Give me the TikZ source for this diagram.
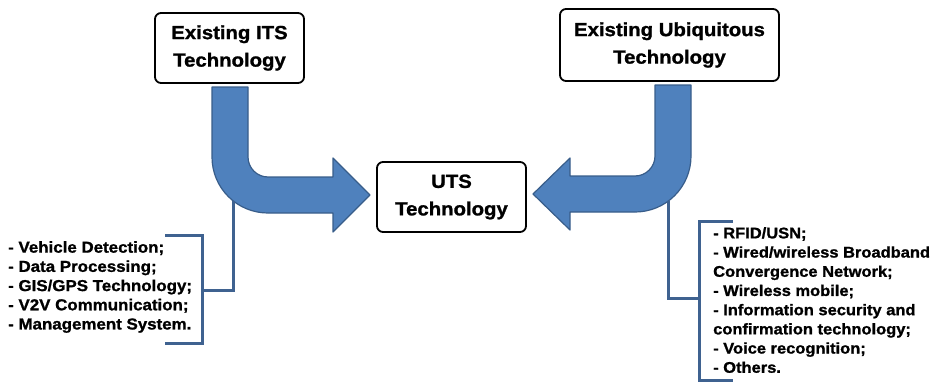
\documentclass[tikz,border=0pt]{standalone}
\usepackage{fontspec}
\newfontfamily\lbf{Liberation Sans}[FakeStretch=1.07,FakeBold=1.2]
\definecolor{arrowfill}{HTML}{4F81BD}
\definecolor{arrowline}{HTML}{385D8A}
\definecolor{bracketc}{HTML}{3F6290}
\begin{document}
\begin{tikzpicture}[x=1pt,y=-1pt,
  box/.style={draw=black,line width=1.8pt,rounded corners=6pt,fill=white,inner sep=0pt,align=center,
    font=\lbf\bfseries\fontsize{19}{27.5}\selectfont},
  bigarrow/.style={fill=arrowfill,draw=arrowline,line width=1.2pt,line join=round},
  brk/.style={draw=bracketc,line width=3pt,line join=miter},
  list/.style={inner sep=0pt,align=left,anchor=north west,
    font=\lbf\bfseries\fontsize{15.4}{19.2}\selectfont}]
\useasboundingbox (0,0) rectangle (931,383);

% boxes
\node[box,minimum width=149pt,minimum height=70pt] (its) at (229.5,48) {Existing ITS\\Technology};
\node[box,minimum width=219pt,minimum height=72pt] (ubi) at (669.5,45) {Existing Ubiquitous\\Technology};
\node[box,minimum width=149pt,minimum height=70pt] (uts) at (451.5,197) {UTS\\Technology};

% left bent arrow
\path[bigarrow] (212,87) -- (248,87) -- (248,157)
  .. controls (248,168) and (257,177) .. (268,177)
  -- (333,177) -- (333,158) -- (370,195) -- (333,232) -- (333,213) -- (268,213)
  .. controls (237,213) and (212,188) .. (212,157) -- cycle;

% right bent arrow
\path[bigarrow] (691,85) -- (655,85) -- (655,156)
  .. controls (655,167) and (646,176) .. (635,176)
  -- (570,176) -- (570,158) -- (533,194) -- (570,230) -- (570,212) -- (635,212)
  .. controls (666,212) and (691,187) .. (691,156) -- cycle;

% left list and bracket
\node[list,font=\lbf\bfseries\fontsize{15.8}{19.2}\selectfont] (itsl) at (8,241) {- Vehicle Detection;\\- Data Processing;\\- GIS/GPS Technology;\\- V2V Communication;\\- Management System.};
\coordinate (lbtop) at (165,235);
\coordinate (lbbot) at (165,343);
\coordinate (lbmid) at (202,290);
\coordinate (laj) at (233,200.7);
\draw[brk] (lbtop) -- (202,235) -- (202,343) -- (lbbot);
\draw[brk] (lbmid) -| (laj);

% right list and bracket
\node[list] (ubil) at (713,227) {- RFID/USN;\\- Wired/wireless Broadband\\Convergence Network;\\- Wireless mobile;\\- Information security and\\confirmation technology;\\- Voice recognition;\\- Others.};
\coordinate (rbtop) at (733,221);
\coordinate (rbbot) at (733,380.5);
\coordinate (rbmid) at (699,298);
\coordinate (raj) at (668,201);
\draw[brk] (rbtop) -- (699,221) -- (699,380.5) -- (rbbot);
\draw[brk] (rbmid) -| (raj);
\end{tikzpicture}
\end{document}
